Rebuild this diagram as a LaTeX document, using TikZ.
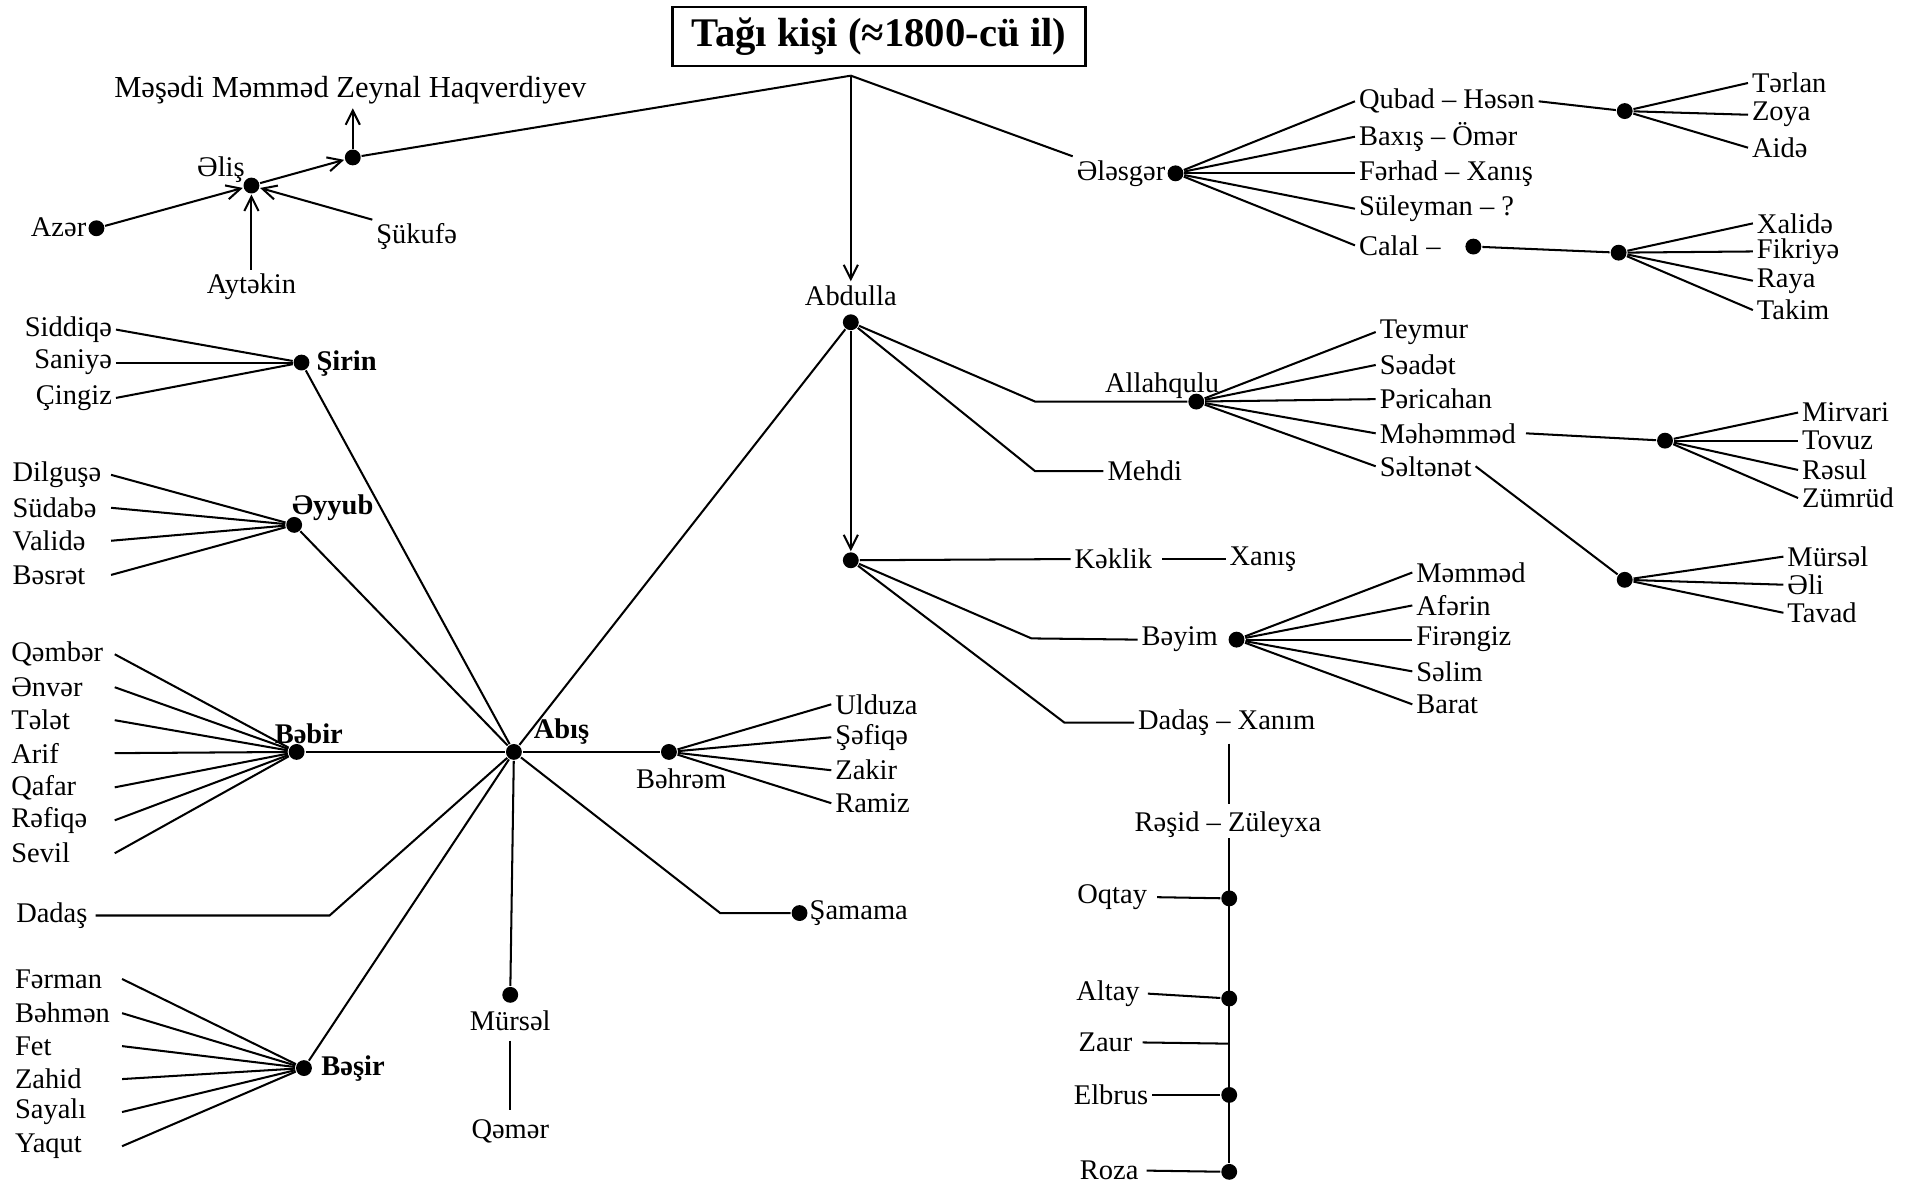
\documentclass[tikz,border=0pt]{standalone}
\usepackage{fontspec}
\setmainfont{Liberation Serif}
\usetikzlibrary{arrows.meta}
\newcommand\lblfont{\fontsize{14}{16}\selectfont}
\begin{document}
\begin{tikzpicture}[x=0.6pt,y=-0.6pt,
  lbl/.style={font=\lblfont, inner sep=1.5pt},
  blbl/.style={font=\lblfont\bfseries, inner sep=1.5pt},
  dot/.style={circle, fill, inner sep=0pt, minimum size=7.8pt},
  every path/.style={line width=1pt},
  arr/.style={-{Straight Barb[length=7pt,width=7pt]}},
  ttl/.style={draw, line width=1.1pt, font=\fontsize{20}{24}\selectfont\bfseries, minimum width=203pt, minimum height=29pt, inner sep=2pt}
]
\useasboundingbox[fill=white] (0,0) rectangle (1568,969);

% ---------- title ----------
\node[ttl] (title) at (720,30) {Tağı kişi (≈1800-cü il)};
\coordinate (top) at (697,62);

% ---------- left top cluster ----------
\node[dot] (mz) at (289,129) {};
\node[lbl,font=\fontsize{15}{17}\selectfont] (mzl) at (287,74) {Məşədi Məmməd Zeynal Haqverdiyev};
\draw (top) -- (mz);
\draw[arr] (mz) -- (mz |- mzl.south);
\node[dot] (alis) at (206,152) {};
\node[lbl] (alisl) at (181,139) {Əliş};
\draw[arr] (alis) -- (mz);
\node[dot] (azer) at (79,187) {};
\node[lbl,anchor=east] (azerl) at (74,186) {Azər};
\draw[arr] (azer) -- (alis);
\node[lbl] (ayt) at (206,235) {Aytəkin};
\draw[arr] (ayt.north) -- (alis);
\node[lbl,anchor=west] (suk) at (305,194) {Şükufə};
\draw[arr] (suk.north west) -- (alis);

% ---------- Ələsgər ----------
\node[dot] (ales) at (963,142) {};
\node[lbl,anchor=east] (alesl) at (958,142) {Ələsgər};
\draw (top) -- (alesl.north west);
\node[lbl,anchor=west] (qh) at (1110,83) {Qubad – Həsən};
\node[lbl,anchor=west] (bo) at (1110,112) {Baxış – Ömər};
\node[lbl,anchor=west] (fx) at (1110,142) {Fərhad – Xanış};
\node[lbl,anchor=west] (sq) at (1110,171) {Süleyman – ?};
\node[lbl,anchor=west] (cal) at (1110,201) {Calal –};
\foreach \n in {qh,bo,fx,sq,cal} \draw (ales) -- (\n.west);
\node[dot] (qd) at (1331,91) {};
\draw (qh.east) -- (qd);
\node[lbl,anchor=west] (ter) at (1432,68) {Tərlan};
\node[lbl,anchor=west] (zoy) at (1432,94) {Zoya};
\node[lbl,anchor=west] (aid) at (1432,121) {Aidə};
\foreach \n in {ter,zoy,aid} \draw (qd) -- (\n.west);
\node[dot] (cd1) at (1207,202) {};
\node[dot] (cd2) at (1326,207) {};
\draw (cd1) -- (cd2);
\node[lbl,anchor=west] (xal) at (1436,183) {Xalidə};
\node[lbl,anchor=west] (fik) at (1436,206) {Fikriyə};
\node[lbl,anchor=west] (ray) at (1436,230) {Raya};
\node[lbl,anchor=west] (tak) at (1436,254) {Takim};
\foreach \n in {xal,fik,ray,tak} \draw (cd2) -- (\n.west);

% ---------- Abdulla ----------
\node[lbl] (abdl) at (697,242) {Abdulla};
\node[dot] (abd) at (697,264) {};
\draw[arr] (top) -- (abdl.north);
\node[dot] (al) at (980,329) {};
\node[lbl] (all) at (952,316) {Allahqulu};
\draw (abd) -- (848,329) -- (al);
\node[lbl,anchor=west] (meh) at (904,386) {Mehdi};
\draw (abd) -- (848,386) -- (meh.west);
\node[dot] (d2) at (697,459) {};
\draw[arr] (abd) -- (d2);

% Allahqulu children
\node[lbl,anchor=west] (tey) at (1127,272) {Teymur};
\node[lbl,anchor=west] (sea) at (1127,299) {Səadət};
\node[lbl,anchor=west] (per) at (1127,327) {Pəricahan};
\node[lbl,anchor=west] (mhm) at (1127,355) {Məhəmməd};
\node[lbl,anchor=west] (sel) at (1127,382) {Səltənət};
\foreach \n in {tey,sea,per,mhm,sel} \draw (al) -- (\n.west);
\node[dot] (md) at (1364,361) {};
\draw ([xshift=3pt]mhm.east) -- (md);
\node[lbl,anchor=west] (mir) at (1473,338) {Mirvari};
\node[lbl,anchor=west] (tov) at (1473,361) {Tovuz};
\node[lbl,anchor=west] (res) at (1473,385) {Rəsul};
\node[lbl,anchor=west] (zum) at (1473,408) {Zümrüd};
\foreach \n in {mir,tov,res,zum} \draw (md) -- (\n.west);
\node[dot] (sd) at (1331,475) {};
\draw (sel.east) -- (sd);
\node[lbl,anchor=west] (mur2) at (1461,456) {Mürsəl};
\node[lbl,anchor=west] (eli) at (1461,479) {Əli};
\node[lbl,anchor=west] (tav) at (1461,502) {Tavad};
\foreach \n in {mur2,eli,tav} \draw (sd) -- (\n.west);

% second Abdulla node children
\node[lbl,anchor=west] (kek) at (877,458) {Kəklik};
\node[lbl,anchor=west] (xan) at (1004,458) {Xanış};
\draw (d2) -- (kek.west);
\draw ([xshift=3pt]kek.east) -- (xan.west);
\node[lbl,anchor=west] (bey) at (932,524) {Bəyim};
\node[dot] (beyd) at (1013,524) {};
\draw (d2) -- (845,523) -- (bey.west);
\node[lbl,anchor=west] (mmd) at (1157,469) {Məmməd};
\node[lbl,anchor=west] (afe) at (1157,496) {Afərin};
\node[lbl,anchor=west] (fir) at (1157,524) {Firəngiz};
\node[lbl,anchor=west] (sal) at (1157,550) {Səlim};
\node[lbl,anchor=west] (bar) at (1157,577) {Barat};
\foreach \n in {mmd,afe,fir,sal,bar} \draw (beyd) -- (\n.west);
\node[lbl,anchor=west] (dx) at (929,592) {Dadaş – Xanım};
\draw (d2) -- (872,592) -- (dx.west);
\coordinate (vx) at (1007,0);
\node[lbl] (rz) at (1006,676) {Rəşid – Züleyxa};
\draw ([yshift=-2pt]vx |- dx.south) -- ([yshift=2pt]vx |- rz.north);
\node[dot] (oq) at (1007,736) {};
\node[dot] (alt) at (1007,818) {};
\coordinate (za) at (1007,855);
\node[dot] (elb) at (1007,897) {};
\node[dot] (roz) at (1007,960) {};
\draw ([yshift=2pt]vx |- rz.south) -- (roz);
\node[lbl,anchor=east] (oql) at (943,735) {Oqtay};
\node[lbl,anchor=east] (altl) at (937,814) {Altay};
\node[lbl,anchor=east] (zal) at (931,854) {Zaur};
\node[lbl,anchor=east] (elbl) at (944,897) {Elbrus};
\node[lbl,anchor=east] (rozl) at (936,959) {Roza};
\draw ([xshift=3pt]oql.east) -- (oq);
\draw ([xshift=2pt]altl.east) -- (alt);
\draw ([xshift=3pt]zal.east) -- (za);
\draw (elbl.east) -- (elb);
\draw ([xshift=2pt]rozl.east) -- (roz);

% ---------- Abış ----------
\node[dot] (abis) at (421,616) {};
\node[blbl] (abisl) at (460,599) {Abış};
\draw (abd) -- (abis);

% Şirin
\node[dot] (sir) at (247,297) {};
\node[blbl,anchor=west] (sirl) at (256,298) {Şirin};
\draw (abis) -- (sir);
\node[lbl,anchor=east] (sid) at (95,270) {Siddiqə};
\node[lbl,anchor=east] (san) at (95,297) {Saniyə};
\node[lbl,anchor=east] (cin) at (95,326) {Çingiz};
\foreach \n in {sid,san,cin} \draw (\n.east) -- (sir);

% Əyyub
\coordinate (ex) at (91,0);
\node[dot] (ey) at (241,430) {};
\node[blbl,anchor=west] (eyl) at (236,416) {Əyyub};
\draw (abis) -- (ey);
\node[lbl,anchor=west] (dil) at (7,389) {Dilguşə};
\node[lbl,anchor=west] (sud) at (7,416) {Südabə};
\node[lbl,anchor=west] (val) at (7,443) {Validə};
\node[lbl,anchor=west] (bes) at (7,471) {Bəsrət};
\foreach \n in {dil,sud,val,bes} \draw (\n.east -| ex) -- (ey);

% Bəbir
\coordinate (bx) at (94,0);
\node[dot] (beb) at (243,616) {};
\node[blbl] (bebl) at (253,601) {Bəbir};
\draw (beb) -- (abis);
\node[lbl,anchor=west] (qem) at (6,536) {Qəmbər};
\node[lbl,anchor=west] (env) at (6,563) {Ənvər};
\node[lbl,anchor=west] (tel) at (6,590) {Tələt};
\node[lbl,anchor=west] (ari) at (6,617) {Arif};
\node[lbl,anchor=west] (qaf) at (6,645) {Qafar};
\node[lbl,anchor=west] (ref) at (6,672) {Rəfiqə};
\node[lbl,anchor=west] (sev) at (6,699) {Sevil};
\foreach \n in {qem,env,tel,ari,qaf,ref,sev} \draw (\n.east -| bx) -- (beb);

% Dadaş
\node[lbl,anchor=west] (dad) at (10,750) {Dadaş};
\draw ([xshift=2pt]dad.east) -- (270,750) -- (abis);

% Bəşir
\coordinate (sx) at (100,0);
\node[dot] (bas) at (249,875) {};
\node[blbl,anchor=west] (basl) at (260,875) {Bəşir};
\draw (abis) -- (bas);
\node[lbl,anchor=west] (fer) at (9,802) {Fərman};
\node[lbl,anchor=west] (beh) at (9,830) {Bəhmən};
\node[lbl,anchor=west] (fet) at (9,857) {Fet};
\node[lbl,anchor=west] (zah) at (9,884) {Zahid};
\node[lbl,anchor=west] (say) at (9,911) {Sayalı};
\node[lbl,anchor=west] (yaq) at (9,939) {Yaqut};
\foreach \n in {fer,beh,fet,zah,say,yaq} \draw (\n.east -| sx) -- (bas);

% Mürsəl / Qəmər
\node[dot] (mu) at (418,815) {};
\node[lbl] (mul) at (418,836) {Mürsəl};
\node[lbl] (qmr) at (418,927) {Qəmər};
\draw (abis) -- (mu);
\draw ([yshift=-3pt]mul.south) -- ([yshift=3pt]qmr.north);

% Bəhrəm
\node[dot] (bhr) at (548,616) {};
\node[lbl] (bhrl) at (558,638) {Bəhrəm};
\draw (abis) -- (bhr);
\node[lbl,anchor=west] (uld) at (681,577) {Ulduza};
\node[lbl,anchor=west] (sef) at (681,604) {Şəfiqə};
\node[lbl,anchor=west] (zak) at (681,631) {Zakir};
\node[lbl,anchor=west] (ram) at (681,658) {Ramiz};
\foreach \n in {uld,sef,zak,ram} \draw (bhr) -- (\n.west);

% Şamama
\node[dot] (sam) at (655,748) {};
\node[lbl,anchor=west] (saml) at (660,748) {Şamama};
\draw (abis) -- (590,748) -- (sam);
\end{tikzpicture}
\end{document}
